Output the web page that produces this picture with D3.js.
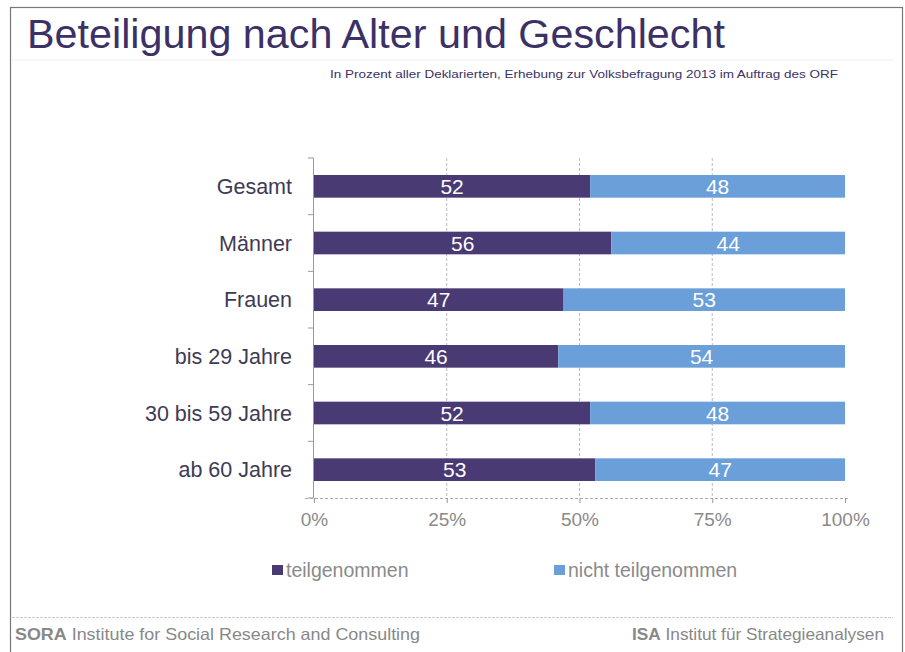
<!DOCTYPE html>
<html>
<head>
<meta charset="utf-8" />
<title>Beteiligung nach Alter und Geschlecht</title>
<script src="https://d3js.org/d3.v7.min.js"></script>
<style>
    body { margin: 0; background: #fff; }
    svg { font-family: "Liberation Sans", Arial, sans-serif; }
</style>
</head>
<body>
<div id="chart"></div>
<script>
    // data
    var categories = ["Gesamt", "Männer", "Frauen", "bis 29 Jahre", "30 bis 59 Jahre", "ab 60 Jahre"];
    var teilgenommen = [52, 56, 47, 46, 52, 53];
    var nichtTeilgenommen = [48, 44, 53, 54, 48, 47];
    var seriesNames = ["teilgenommen", "nicht teilgenommen"];
    var tickValues = [0, 25, 50, 75, 100];

    var width = 905, height = 652;
    var darkColor = "#4a3a74", lightColor = "#6b9fd9";

    var svg = d3.select("#chart").append("svg")
        .attr("width", width).attr("height", height);

    // frame
    svg.append("rect")
        .attr("x", 10.5).attr("y", 7.5)
        .attr("width", 892).attr("height", 660)
        .attr("fill", "none").attr("stroke", "#777").attr("stroke-width", 1.2);

    // title + subtitle
    svg.append("text")
        .attr("x", 27).attr("y", 48)
        .attr("font-size", 41.3)
        .attr("fill", "#3b3166")
        .text("Beteiligung nach Alter und Geschlecht");

    svg.append("line")
        .attr("x1", 12).attr("x2", 893).attr("y1", 60).attr("y2", 60)
        .attr("stroke", "#eee");

    svg.append("text")
        .attr("x", 330).attr("y", 78)
        .attr("font-size", 11.5)
        .attr("textLength", 508)
        .attr("lengthAdjust", "spacingAndGlyphs")
        .attr("fill", "#3b3166")
        .text("In Prozent aller Deklarierten, Erhebung zur Volksbefragung 2013 im Auftrag des ORF");

    // scales
    var x = d3.scaleLinear().domain([0, 100]).range([314, 845]);
    var y = d3.scaleBand().domain(categories).range([158, 498])
        .paddingInner(0.6).paddingOuter(0.3);

    // vertical dashed grid
    svg.append("g").selectAll("line")
        .data(tickValues.slice(1, 4))
        .enter().append("line")
        .attr("x1", function (d) { return x(d); })
        .attr("x2", function (d) { return x(d); })
        .attr("y1", 158).attr("y2", 498)
        .attr("stroke", "#bbb").attr("stroke-dasharray", "3,2");

    // left axis with ticks between the categories
    var step = y.step();
    svg.append("line")
        .attr("x1", 313.5).attr("x2", 313.5).attr("y1", 158).attr("y2", 498)
        .attr("stroke", "#999");
    svg.append("g").selectAll("line")
        .data(d3.range(categories.length + 1))
        .enter().append("line")
        .attr("x1", 308).attr("x2", 313.5)
        .attr("y1", function (i) { return 158 + i * step; })
        .attr("y2", function (i) { return 158 + i * step; })
        .attr("stroke", "#999");

    // bottom axis
    var xAxis = d3.axisBottom(x).tickValues(tickValues)
        .tickFormat(function (d) { return d + "%"; })
        .tickSize(5).tickSizeOuter(0).tickPadding(10);
    var gx = svg.append("g").attr("transform", "translate(0,498)").call(xAxis);
    gx.select(".domain").attr("stroke", "#aaa").attr("stroke-dasharray", "3,2")
        .attr("d", "M305,0.5H848");
    gx.selectAll(".tick line").attr("stroke", "#999");
    gx.selectAll(".tick text")
        .attr("font-size", 19).attr("fill", "#8a8a8a")
        .attr("font-family", "Liberation Sans, Arial, sans-serif");

    // category labels
    svg.append("g").selectAll("text")
        .data(categories)
        .enter().append("text")
        .attr("x", 292)
        .attr("y", function (d) { return y(d) + y.bandwidth() / 2; })
        .attr("dy", "0.36em")
        .attr("text-anchor", "end")
        .attr("font-size", 21.5)
        .attr("fill", "#3e3b55")
        .text(function (d) { return d; });

    // stacked bars
    var rows = categories.map(function (c, i) {
        return { cat: c, a: teilgenommen[i], b: nichtTeilgenommen[i] };
    });

    var bars = svg.append("g");
    bars.selectAll("rect.a")
        .data(rows).enter().append("rect").attr("class", "a")
        .attr("x", x(0))
        .attr("y", function (d) { return y(d.cat); })
        .attr("width", function (d) { return x(d.a) - x(0); })
        .attr("height", y.bandwidth())
        .attr("fill", darkColor);
    bars.selectAll("rect.b")
        .data(rows).enter().append("rect").attr("class", "b")
        .attr("x", function (d) { return x(d.a); })
        .attr("y", function (d) { return y(d.cat); })
        .attr("width", function (d) { return x(d.a + d.b) - x(d.a); })
        .attr("height", y.bandwidth())
        .attr("fill", lightColor);

    // value labels
    bars.selectAll("text.a")
        .data(rows).enter().append("text").attr("class", "a")
        .attr("x", function (d) { return x(d.a / 2); })
        .attr("y", function (d) { return y(d.cat) + y.bandwidth() / 2; })
        .attr("dy", "0.36em").attr("text-anchor", "middle")
        .attr("font-size", 21).attr("fill", "#fff")
        .text(function (d) { return d.a; });
    bars.selectAll("text.b")
        .data(rows).enter().append("text").attr("class", "b")
        .attr("x", function (d) { return x(d.a + d.b / 2); })
        .attr("y", function (d) { return y(d.cat) + y.bandwidth() / 2; })
        .attr("dy", "0.36em").attr("text-anchor", "middle")
        .attr("font-size", 21).attr("fill", "#fff")
        .text(function (d) { return d.b; });

    // legend
    var legendX = [272, 554];
    var legend = svg.append("g").selectAll("g")
        .data(seriesNames).enter().append("g")
        .attr("transform", function (d, i) { return "translate(" + legendX[i] + ",565)"; });
    legend.append("rect")
        .attr("width", 11).attr("height", 10)
        .attr("fill", function (d, i) { return i === 0 ? darkColor : lightColor; });
    legend.append("text")
        .attr("x", 14).attr("y", 12)
        .attr("font-size", 19.5).attr("fill", "#8a8a8a")
        .text(function (d) { return d; });

    // footer
    svg.append("line")
        .attr("x1", 12).attr("x2", 893).attr("y1", 617.5).attr("y2", 617.5)
        .attr("stroke", "#ccc").attr("stroke-dasharray", "3,1");

    var f1 = svg.append("text").attr("x", 15).attr("y", 640)
        .attr("font-size", 16.5).attr("fill", "#888")
        .attr("textLength", 405).attr("lengthAdjust", "spacingAndGlyphs");
    f1.append("tspan").attr("font-weight", "bold").text("SORA");
    f1.append("tspan").text(" Institute for Social Research and Consulting");

    var f2 = svg.append("text").attr("x", 632).attr("y", 640)
        .attr("font-size", 16.5).attr("fill", "#888")
        .attr("textLength", 252).attr("lengthAdjust", "spacingAndGlyphs");
    f2.append("tspan").attr("font-weight", "bold").text("ISA");
    f2.append("tspan").text(" Institut für Strategieanalysen");
</script>
</body>
</html>
